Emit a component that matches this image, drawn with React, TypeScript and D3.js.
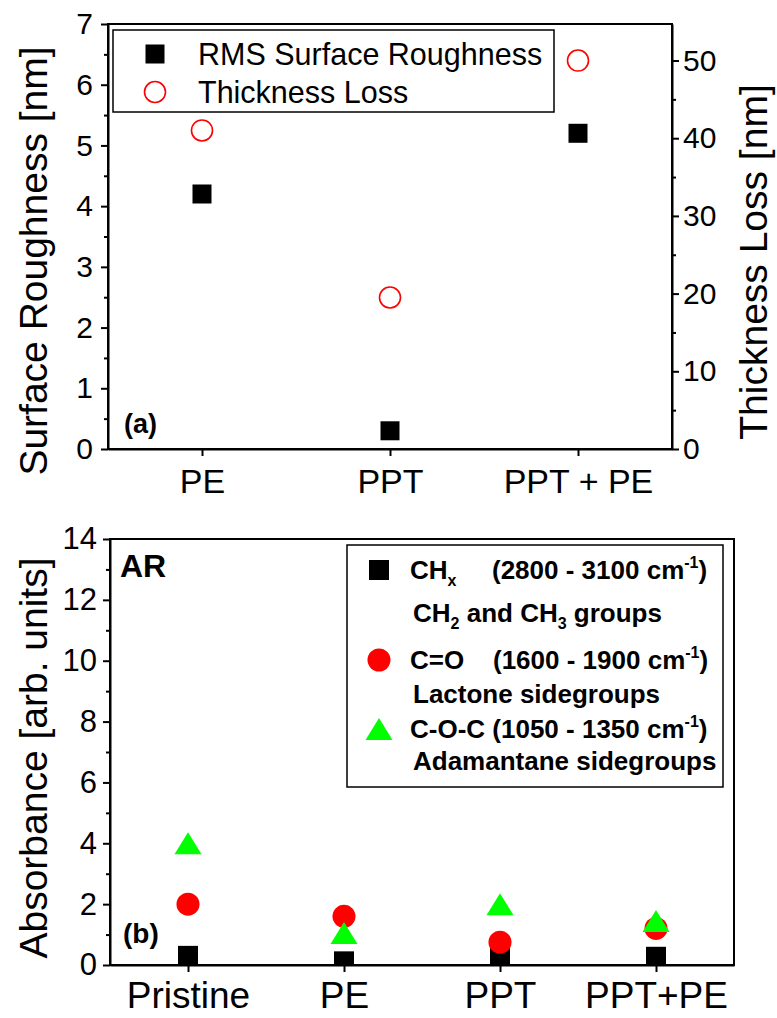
import React, { useEffect, useRef } from "react";
import * as d3 from "d3";

// panel (a)
const topCategories = ["PE", "PPT", "PPT + PE"];
const rmsRoughness = [4.2, 0.3, 5.2];
const thicknessLoss = [41, 19.5, 50];
const roughTicks = [0, 1, 2, 3, 4, 5, 6, 7];
const lossTicks = [0, 10, 20, 30, 40, 50];

// panel (b)
const bottomCategories = ["Pristine", "PE", "PPT", "PPT+PE"];
const chxAbs = [0.3, 0.12, 0.3, 0.27];
const coAbs = [2.0, 1.6, 0.75, 1.2];
const cocAbs = [4.0, 1.05, 2.0, 1.45];
const absTicks = [0, 2, 4, 6, 8, 10, 12, 14];

const FONT = "'Liberation Sans', Arial, sans-serif";

export default function App() {
  const ref = useRef<SVGSVGElement>(null);

  useEffect(() => {
    const svg = d3.select(ref.current);
    svg.selectAll("*").remove();

    const styleAxis = (g: any, size: number) => {
      g.selectAll("path").attr("stroke", "#000").attr("stroke-width", 2);
      g.selectAll("line").attr("stroke", "#000").attr("stroke-width", 2);
      g.selectAll("text")
        .attr("font-family", FONT)
        .attr("font-size", size)
        .attr("fill", "#000");
    };
    const minor = (g: any) => {
      g.select(".domain").remove();
      g.selectAll("text").remove();
      g.selectAll("line").attr("stroke", "#000").attr("stroke-width", 2);
    };
    const intFmt = d3.format("d");

    // ---------- panel (a) ----------
    const a = { left: 108, right: 672, top: 24, bottom: 449 };
    const xa = d3.scalePoint().domain(topCategories).range([a.left, a.right]).padding(0.5);
    const ya = d3.scaleLinear().domain([0, 7]).range([a.bottom, a.top]);
    const ya2 = d3.scaleLinear().domain([0, 54.7]).range([a.bottom, a.top]);

    const pa = svg.append("g");
    pa.append("rect")
      .attr("x", a.left).attr("y", a.top)
      .attr("width", a.right - a.left).attr("height", a.bottom - a.top)
      .attr("fill", "none").attr("stroke", "#000").attr("stroke-width", 2);

    pa.append("g").attr("transform", `translate(${a.left},0)`)
      .call(d3.axisLeft(ya).tickValues(d3.range(0.5, 7, 1)).tickSize(4))
      .call(minor);
    pa.append("g").attr("transform", `translate(${a.left},0)`)
      .call(d3.axisLeft(ya).tickValues(roughTicks).tickFormat(intFmt).tickSize(7).tickSizeOuter(0).tickPadding(8))
      .call((g: any) => styleAxis(g, 30));

    pa.append("g").attr("transform", `translate(${a.right},0)`)
      .call(d3.axisRight(ya2).tickValues(d3.range(5, 55, 10)).tickSize(4))
      .call(minor);
    pa.append("g").attr("transform", `translate(${a.right},0)`)
      .call(d3.axisRight(ya2).tickValues(lossTicks).tickFormat(intFmt).tickSize(7).tickSizeOuter(0).tickPadding(4))
      .call((g: any) => styleAxis(g, 30));

    pa.append("g").attr("transform", `translate(0,${a.bottom})`)
      .call(d3.axisBottom(xa).tickSize(7).tickSizeOuter(0).tickPadding(13))
      .call((g: any) => styleAxis(g, 34));

    const sqA = 19;
    pa.selectAll(".rms").data(rmsRoughness).enter().append("rect")
      .attr("x", (_d, i) => (xa(topCategories[i]) as number) - sqA / 2)
      .attr("y", d => ya(d) - sqA / 2)
      .attr("width", sqA).attr("height", sqA).attr("fill", "#000");
    pa.selectAll(".loss").data(thicknessLoss).enter().append("circle")
      .attr("cx", (_d, i) => xa(topCategories[i]) as number)
      .attr("cy", d => ya2(d))
      .attr("r", 10.5).attr("fill", "none").attr("stroke", "#ff0000").attr("stroke-width", 1.6);

    // legend (a)
    pa.append("rect").attr("x", 113).attr("y", 30).attr("width", 441).attr("height", 82)
      .attr("fill", "#fff").attr("stroke", "#000").attr("stroke-width", 1.5);
    pa.append("rect").attr("x", 155 - sqA / 2).attr("y", 54 - sqA / 2)
      .attr("width", sqA).attr("height", sqA).attr("fill", "#000");
    pa.append("circle").attr("cx", 155).attr("cy", 92).attr("r", 10.5)
      .attr("fill", "none").attr("stroke", "#ff0000").attr("stroke-width", 1.6);
    [["RMS Surface Roughness", 54], ["Thickness Loss", 92]].forEach(([t, y]) => {
      pa.append("text").attr("x", 198).attr("y", y as number).attr("dy", "0.35em")
        .attr("font-family", FONT).attr("font-size", 30.5).text(t as string);
    });
    pa.append("text").attr("x", 124).attr("y", 433)
      .attr("font-family", FONT).attr("font-size", 27).attr("font-weight", "bold").text("(a)");

    pa.append("text")
      .attr("transform", `translate(47,261) rotate(-90)`)
      .attr("text-anchor", "middle").attr("font-family", FONT).attr("font-size", 39)
      .text("Surface Roughness [nm]");
    pa.append("text")
      .attr("transform", `translate(767,262) rotate(-90)`)
      .attr("text-anchor", "middle").attr("font-family", FONT).attr("font-size", 39)
      .text("Thickness Loss [nm]");

    // ---------- panel (b) ----------
    const b = { left: 110, right: 734, top: 539, bottom: 965 };
    const xb = d3.scalePoint().domain(bottomCategories).range([b.left, b.right]).padding(0.5);
    const yb = d3.scaleLinear().domain([0, 14]).range([b.bottom, b.top]);

    const pb = svg.append("g");
    svg.append("defs").append("clipPath").attr("id", "clipB").append("rect")
      .attr("x", b.left).attr("y", b.top)
      .attr("width", b.right - b.left).attr("height", b.bottom - b.top);

    const marks = pb.append("g").attr("clip-path", "url(#clipB)");
    const sqB = 20;
    marks.selectAll(".chx").data(chxAbs).enter().append("rect")
      .attr("x", (_d, i) => (xb(bottomCategories[i]) as number) - sqB / 2)
      .attr("y", d => yb(d) - sqB / 2)
      .attr("width", sqB).attr("height", sqB).attr("fill", "#000");
    marks.selectAll(".co").data(coAbs).enter().append("circle")
      .attr("cx", (_d, i) => xb(bottomCategories[i]) as number)
      .attr("cy", d => yb(d))
      .attr("r", 11.5).attr("fill", "#ff0000");
    const tri = (cx: number, cy: number) =>
      `M${cx},${cy - 11}L${cx + 13.5},${cy + 11}L${cx - 13.5},${cy + 11}Z`;
    marks.selectAll(".coc").data(cocAbs).enter().append("path")
      .attr("d", (d, i) => tri(xb(bottomCategories[i]) as number, yb(d)))
      .attr("fill", "#00ff00");

    pb.append("rect")
      .attr("x", b.left).attr("y", b.top)
      .attr("width", b.right - b.left).attr("height", b.bottom - b.top)
      .attr("fill", "none").attr("stroke", "#000").attr("stroke-width", 2);

    pb.append("g").attr("transform", `translate(${b.left},0)`)
      .call(d3.axisLeft(yb).tickValues(d3.range(1, 14, 2)).tickSize(4))
      .call(minor);
    pb.append("g").attr("transform", `translate(${b.left},0)`)
      .call(d3.axisLeft(yb).tickValues(absTicks).tickFormat(intFmt).tickSize(7).tickSizeOuter(0).tickPadding(6))
      .call((g: any) => styleAxis(g, 31));
    pb.append("g").attr("transform", `translate(0,${b.bottom})`)
      .call(d3.axisBottom(xb).tickSize(7).tickSizeOuter(0).tickPadding(10))
      .call((g: any) => styleAxis(g, 37));

    pb.append("text").attr("x", 120).attr("y", 577)
      .attr("font-family", FONT).attr("font-size", 32).attr("font-weight", "bold").text("AR");
    pb.append("text").attr("x", 123).attr("y", 943)
      .attr("font-family", FONT).attr("font-size", 28).attr("font-weight", "bold").text("(b)");

    pb.append("text")
      .attr("transform", `translate(47,758) rotate(-90)`)
      .attr("text-anchor", "middle").attr("font-family", FONT).attr("font-size", 39)
      .text("Absorbance [arb. units]");

    // legend (b)
    const lg = pb.append("g").attr("font-family", FONT).attr("font-weight", "bold").attr("font-size", 26);
    lg.append("rect").attr("x", 347).attr("y", 545).attr("width", 376).attr("height", 242)
      .attr("fill", "#fff").attr("stroke", "#000").attr("stroke-width", 1.5);
    lg.append("rect").attr("x", 379 - sqB / 2).attr("y", 570 - sqB / 2)
      .attr("width", sqB).attr("height", sqB).attr("fill", "#000");
    lg.append("circle").attr("cx", 379).attr("cy", 660).attr("r", 11.5).attr("fill", "#ff0000");
    lg.append("path").attr("d", tri(379, 729)).attr("fill", "#00ff00");

    // parts: [text, kind] where kind is "sub" or "sup" for small shifted text
    const line = (x: number, y: number, parts: [string, string?][]) => {
      const t = lg.append("text").attr("x", x).attr("y", y + 9);
      let back = 0;
      parts.forEach(([s, kind]) => {
        const sp = t.append("tspan").text(s);
        if (kind === "sub") {
          sp.attr("font-size", 16).attr("dy", back + 7);
          back = -7;
        } else if (kind === "sup") {
          sp.attr("font-size", 16).attr("dy", back - 11);
          back = 11;
        } else {
          sp.attr("dy", back);
          back = 0;
        }
      });
    };
    line(410, 570, [["CH"], ["x", "sub"]]);
    line(492, 570, [["(2800 - 3100 cm"], ["-1", "sup"], [")"]]);
    line(413, 613, [["CH"], ["2", "sub"], [" and CH"], ["3", "sub"], [" groups"]]);
    line(410, 660, [["C=O"]]);
    line(493, 660, [["(1600 - 1900 cm"], ["-1", "sup"], [")"]]);
    line(413, 694, [["Lactone sidegroups"]]);
    line(410, 729, [["C-O-C (1050 - 1350 cm"], ["-1", "sup"], [")"]]);
    line(413, 761, [["Adamantane sidegroups"]]);
  }, []);

  return (
    <svg
      ref={ref}
      width={777}
      height={1018}
      style={{ position: "absolute", left: 0, top: 0, background: "#fff" }}
    />
  );
}
